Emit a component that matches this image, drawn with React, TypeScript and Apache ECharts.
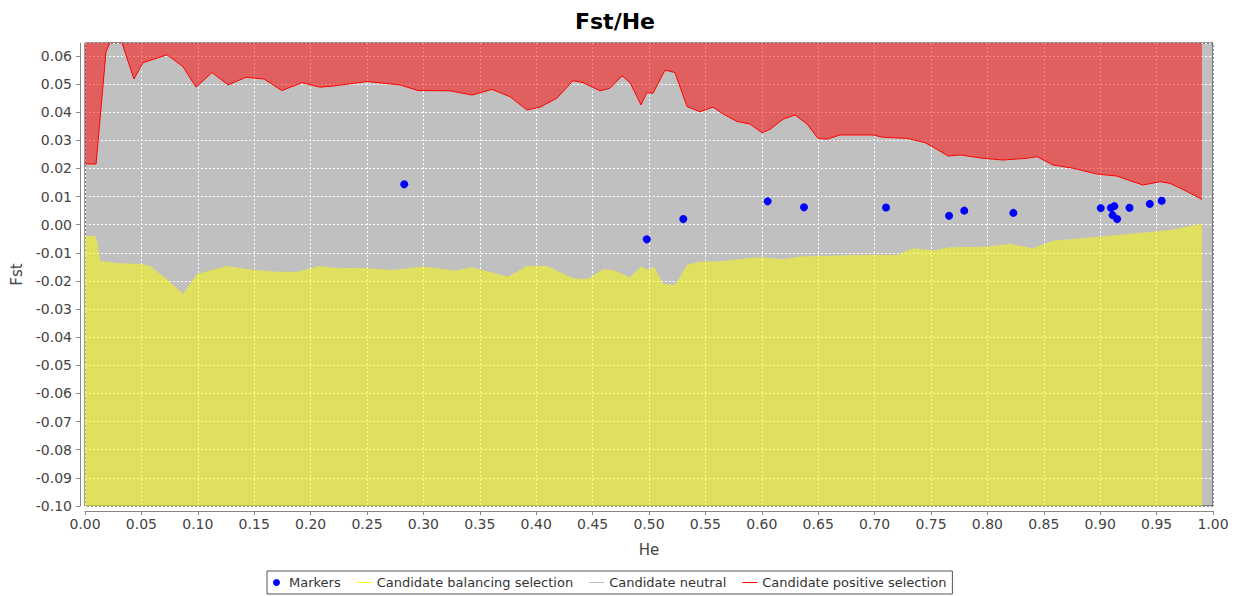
import React, { useEffect, useRef } from "react";
import * as echarts from "echarts";

// Upper bound of the neutral envelope (above = candidate positive selection)
const upperBound: [number, number][] = [
  [0.0, 0.0216], [0.0098, 0.0216], [0.0186, 0.0614], [0.022, 0.0646], [0.0275, 0.068],
  [0.0328, 0.0646], [0.0434, 0.0518], [0.0514, 0.0576], [0.0727, 0.0604], [0.0869, 0.0562],
  [0.0984, 0.0489], [0.1126, 0.0541], [0.1268, 0.0497], [0.1427, 0.0524], [0.1587, 0.0518],
  [0.1746, 0.0477], [0.1924, 0.0505], [0.2083, 0.0489], [0.2199, 0.0493], [0.25, 0.0509],
  [0.2793, 0.0497], [0.2952, 0.0477], [0.3236, 0.0476], [0.3431, 0.0461], [0.3608, 0.0481],
  [0.3768, 0.0455], [0.3918, 0.0408], [0.4034, 0.0418], [0.4184, 0.045], [0.4326, 0.0512],
  [0.4415, 0.0505], [0.4566, 0.0476], [0.4654, 0.0485], [0.4761, 0.0529], [0.4832, 0.0505],
  [0.4929, 0.0426], [0.4982, 0.047], [0.5035, 0.0467], [0.5142, 0.055], [0.523, 0.0541],
  [0.5337, 0.042], [0.5452, 0.0402], [0.5567, 0.0418], [0.5656, 0.0394], [0.578, 0.0367],
  [0.5895, 0.0358], [0.6002, 0.0327], [0.6073, 0.0339], [0.6188, 0.0375], [0.6294, 0.039],
  [0.6401, 0.0358], [0.6498, 0.0307], [0.6578, 0.0304], [0.6693, 0.0319], [0.6986, 0.0319],
  [0.7074, 0.0311], [0.7287, 0.0307], [0.7447, 0.0292], [0.7553, 0.0268], [0.7651, 0.0244],
  [0.7757, 0.0248], [0.7961, 0.0236], [0.8138, 0.023], [0.8351, 0.0236], [0.844, 0.0242],
  [0.8582, 0.0212], [0.8759, 0.0201], [0.8972, 0.018], [0.9149, 0.0173], [0.9291, 0.0153],
  [0.9379, 0.0141], [0.953, 0.0153], [0.9619, 0.0147], [0.977, 0.0118], [0.9902, 0.009],
];

// Lower bound of the neutral envelope (below = candidate balancing selection)
const lowerBound: [number, number][] = [
  [0.0, -0.004], [0.0089, -0.004], [0.0106, -0.0054], [0.0133, -0.0128], [0.031, -0.0137],
  [0.0488, -0.014], [0.0576, -0.0147], [0.0727, -0.0194], [0.0869, -0.0246], [0.0993, -0.0175],
  [0.1259, -0.0147], [0.1489, -0.0161], [0.1702, -0.0167], [0.1879, -0.0167], [0.2083, -0.0147],
  [0.2199, -0.0153], [0.25, -0.0155], [0.273, -0.0161], [0.2855, -0.0155], [0.2996, -0.0149],
  [0.328, -0.0163], [0.3431, -0.0151], [0.375, -0.0185], [0.3918, -0.0147], [0.4096, -0.0147],
  [0.4326, -0.019], [0.445, -0.0194], [0.4592, -0.0158], [0.4681, -0.0161], [0.4832, -0.0187],
  [0.4929, -0.0149], [0.4991, -0.0161], [0.5044, -0.0149], [0.5124, -0.0211], [0.523, -0.0214],
  [0.5337, -0.0143], [0.5452, -0.0131], [0.5629, -0.0131], [0.5745, -0.0125], [0.5869, -0.0119],
  [0.6002, -0.0116], [0.6188, -0.0123], [0.6339, -0.0113], [0.6516, -0.0111], [0.6871, -0.0108],
  [0.7199, -0.0108], [0.7287, -0.0092], [0.7358, -0.0084], [0.7518, -0.0092], [0.7668, -0.008],
  [0.7996, -0.0078], [0.82, -0.0068], [0.8404, -0.0084], [0.8582, -0.0057], [0.8936, -0.0045],
  [0.9176, -0.0036], [0.9291, -0.0031], [0.9468, -0.0025], [0.9619, -0.0019], [0.977, -0.0007],
  [0.9902, 0.0003],
];

// Observed loci
const markers: [number, number][] = [
  [0.283, 0.0144], [0.498, -0.0052], [0.5304, 0.002], [0.6052, 0.0083], [0.6374, 0.0062],
  [0.7101, 0.0061], [0.766, 0.0032], [0.7795, 0.005], [0.823, 0.0042], [0.9005, 0.0059],
  [0.9095, 0.006], [0.9125, 0.0066], [0.911, 0.0034], [0.915, 0.002], [0.926, 0.006],
  [0.944, 0.0074], [0.9545, 0.0085],
];

const seriesNames = [
  "Markers",
  "Candidate balancing selection",
  "Candidate neutral",
  "Candidate positive selection",
];

const FONT = "DejaVu Sans";
const LINE_ICON = "path://M0,0 L15,0 L15,1 L0,1 Z";

export default function App() {
  const ref = useRef<HTMLDivElement>(null);

  useEffect(() => {
    if (!ref.current) return;
    const chart = echarts.init(ref.current, undefined, { renderer: "svg" });
    const fmt = (v: number) => (Math.abs(v) < 1e-9 ? 0 : v).toFixed(2);
    chart.setOption({
      animation: false,
      backgroundColor: "#ffffff",
      title: {
        text: "Fst/He",
        left: 610,
        top: 5,
        textAlign: "center",
        textStyle: { fontFamily: FONT, fontSize: 22, fontWeight: "bold", color: "#000000" },
      },
      legend: {
        left: 267,
        top: 571,
        orient: "horizontal",
        padding: [5, 6, 5, 6],
        itemGap: 16,
        itemWidth: 15,
        itemHeight: 7,
        borderColor: "#555555",
        borderWidth: 1,
        borderRadius: 0,
        textStyle: { fontFamily: FONT, fontSize: 13, color: "#333333" },
        data: [
          { name: seriesNames[0], icon: "circle", itemStyle: { color: "#0000ff", opacity: 1, borderWidth: 0 } },
          { name: seriesNames[1], icon: LINE_ICON, itemStyle: { color: "#ffff00", opacity: 1, borderWidth: 0 } },
          { name: seriesNames[2], icon: LINE_ICON, itemStyle: { color: "#c0c0c0", opacity: 1, borderWidth: 0 } },
          { name: seriesNames[3], icon: LINE_ICON, itemStyle: { color: "#ff0000", opacity: 1, borderWidth: 0 } },
        ],
      },
      grid: {
        left: 85,
        right: 26,
        top: 43,
        bottom: 90,
        show: true,
        backgroundColor: "#c0c0c0",
        borderColor: "#333333",
        borderWidth: 1,
      },
      xAxis: {
        type: "value",
        min: 0,
        max: 1,
        interval: 0.05,
        offset: 5,
        name: "He",
        nameLocation: "middle",
        nameGap: 31,
        nameTextStyle: { fontFamily: FONT, fontSize: 15, color: "#444444" },
        axisLine: { show: true, onZero: false, lineStyle: { color: "#888888" } },
        axisTick: { show: true, length: 4, lineStyle: { color: "#888888" } },
        axisLabel: { margin: 6, formatter: fmt, fontFamily: FONT, fontSize: 14, color: "#444444" },
        splitLine: { show: true, lineStyle: { color: "#ffffff", type: [2, 2], width: 1 } },
      },
      yAxis: {
        type: "value",
        min: -0.1,
        max: 0.0646,
        interval: 0.01,
        offset: 5,
        name: "Fst",
        nameLocation: "middle",
        nameGap: 53,
        nameTextStyle: { fontFamily: FONT, fontSize: 15, color: "#444444" },
        axisLine: { show: true, onZero: false, lineStyle: { color: "#888888" } },
        axisTick: { show: true, length: 4, lineStyle: { color: "#888888" } },
        axisLabel: {
          margin: 8,
          formatter: fmt,
          showMaxLabel: false,
          fontFamily: FONT,
          fontSize: 14,
          color: "#444444",
        },
        splitLine: { show: true, lineStyle: { color: "#ffffff", type: [2, 2], width: 1 } },
      },
      series: [
        {
          name: seriesNames[1],
          type: "line",
          data: lowerBound,
          showSymbol: false,
          color: "#ffff00",
          lineStyle: { width: 0, opacity: 0 },
          areaStyle: { origin: "start", color: "#ffff00", opacity: 0.5 },
          z: 2,
        },
        {
          name: seriesNames[2],
          type: "line",
          data: [],
          showSymbol: false,
          color: "#c0c0c0",
        },
        {
          name: seriesNames[3],
          type: "line",
          data: upperBound,
          showSymbol: false,
          color: "#ff0000",
          lineStyle: { width: 1, color: "#ff0000" },
          areaStyle: { origin: "end", color: "#ff0000", opacity: 0.5 },
          z: 2,
        },
        {
          name: seriesNames[0],
          type: "scatter",
          data: markers,
          symbol: "circle",
          symbolSize: 8,
          itemStyle: { color: "#0000ff", opacity: 1 },
          z: 5,
        },
      ],
    });
    return () => chart.dispose();
  }, []);

  return (
    <div
      ref={ref}
      style={{ position: "fixed", left: 0, top: 0, width: 1239, height: 596 }}
    />
  );
}
